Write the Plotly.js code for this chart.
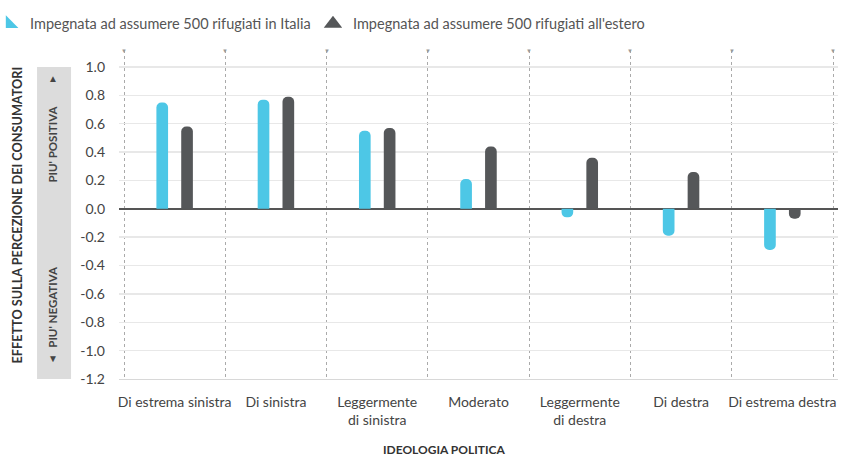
<!DOCTYPE html>
<html>
<head>
<meta charset="utf-8">
<script src="https://cdn.plot.ly/plotly-3.0.1.min.js"></script>
<style>
html,body{margin:0;padding:0;background:#fff;}
#chart{width:843px;height:456px;}
</style>
</head>
<body>
<div id="chart"></div>
<script>
const categories = ["Di estrema sinistra", "Di sinistra", "Leggermente<br>di sinistra", "Moderato", "Leggermente<br>di destra", "Di destra", "Di estrema destra"];
const italiaValues = [0.75, 0.77, 0.55, 0.21, -0.06, -0.19, -0.29];
const esteroValues = [0.58, 0.79, 0.57, 0.44, 0.36, 0.26, -0.07];
const seriesNames = ["Impegnata ad assumere 500 rifugiati in Italia", "Impegnata ad assumere 500 rifugiati all'estero"];
const yTickVals = [1.0, 0.8, 0.6, 0.4, 0.2, 0.0, -0.2, -0.4, -0.6, -0.8, -1.0, -1.2];
const yTickText = ["1.0", "0.8", "0.6", "0.4", "0.2", "0.0", "-0.2", "-0.4", "-0.6", "-0.8", "-1.0", "-1.2"];

const BLUE = "#4dc7e6";
const DARK = "#555759";
const FONT = "Lato, 'Open Sans', sans-serif";

const traces = [
  {type: "bar", x: categories, y: italiaValues, name: seriesNames[0], showlegend: false,
   marker: {color: BLUE, cornerradius: 6}, hoverinfo: "y"},
  {type: "bar", x: categories, y: esteroValues, name: seriesNames[1], showlegend: false,
   marker: {color: DARK, cornerradius: 6}, hoverinfo: "y"},
  {type: "scatter", mode: "markers", x: [null], y: [null], name: seriesNames[0], legend: "legend",
   marker: {symbol: "triangle-sw", color: BLUE, size: 14}},
  {type: "scatter", mode: "markers", x: [null], y: [null], name: seriesNames[1], legend: "legend2",
   marker: {symbol: "triangle-up", color: DARK, size: 16}}
];

const annotations = [];
for (let i = 0; i <= categories.length; i++) {
  annotations.push({x: i - 0.5, xref: "x", y: 1, yref: "paper", text: "▼", showarrow: false,
    font: {size: 6, color: "#9a9a9a"}, xanchor: "center", yanchor: "middle"});
}
annotations.push(
  {xref: "paper", yref: "paper", x: -0.1419, y: 0.5, text: "<b>EFFETTO SULLA PERCEZIONE DEI CONSUMATORI</b>",
   textangle: -90, showarrow: false, font: {family: FONT, size: 12.7, color: "#333"}, xanchor: "center", yanchor: "middle"},
  {xref: "paper", yref: "y", x: -0.0918, y: 0.46, text: "<b>PIU' POSITIVA</b>",
   textangle: -90, showarrow: false, font: {family: FONT, size: 11.5, color: "#444"}, xanchor: "center", yanchor: "middle"},
  {xref: "paper", yref: "y", x: -0.0918, y: -0.69, text: "<b>PIU' NEGATIVA</b>",
   textangle: -90, showarrow: false, font: {family: FONT, size: 11.5, color: "#444"}, xanchor: "center", yanchor: "middle"},
  {xref: "paper", yref: "y", x: -0.0918, y: 0.92, text: "▲", showarrow: false,
   font: {size: 10, color: "#444"}, xanchor: "center", yanchor: "middle"},
  {xref: "paper", yref: "y", x: -0.0918, y: -1.05, text: "▼", showarrow: false,
   font: {size: 10, color: "#444"}, xanchor: "center", yanchor: "middle"},
  {xref: "paper", yref: "paper", x: 0.452, y: -0.213, text: "<b>IDEOLOGIA POLITICA</b>", showarrow: false,
   font: {family: FONT, size: 12, color: "#333"}, xanchor: "center", yanchor: "middle"}
);

const legendBase = {orientation: "h", yref: "container", xref: "paper", y: 0.983, xanchor: "left", yanchor: "top",
  font: {family: FONT, size: 14.5, color: "#555"}, itemwidth: 30, bgcolor: "rgba(0,0,0,0)"};

const layout = {
  width: 843, height: 456,
  margin: {l: 119, r: 5, t: 50, b: 77, autoexpand: false},
  paper_bgcolor: "#fff", plot_bgcolor: "#fff",
  font: {family: FONT, size: 13, color: "#444"},
  barmode: "group", bargap: 0.51, bargroupgap: 0.53,
  showlegend: true,
  legend: Object.assign({}, legendBase, {x: -0.1794}),
  legend2: Object.assign({}, legendBase, {x: 0.2698}),
  xaxis: {type: "category", tickson: "boundaries", showgrid: true, griddash: "dot", gridcolor: "#aaa", gridwidth: 1,
    ticks: "", showline: true, linecolor: "#d8d8d8", linewidth: 1, zeroline: false, fixedrange: true, tickangle: 0,
    ticklabelstandoff: 10, tickfont: {family: FONT, size: 14, color: "#444"}},
  yaxis: {range: [-1.2, 1.12], tickvals: yTickVals, ticktext: yTickText, showgrid: true, gridcolor: "#e8e8e8", gridwidth: 1.5,
    zeroline: true, zerolinecolor: "#555", zerolinewidth: 2, ticks: "", ticklabelstandoff: 13,
    tickfont: {family: FONT, size: 14, color: "#444"}, fixedrange: true},
  shapes: [
    {type: "rect", xref: "paper", yref: "y", x0: -0.1140, x1: -0.0667, y0: -1.2, y1: 1.0,
     fillcolor: "#dcdcdc", line: {width: 0}, layer: "below"}
  ],
  annotations: annotations
};

Plotly.newPlot("chart", traces, layout, {displayModeBar: false, staticPlot: true});
</script>
</body>
</html>
